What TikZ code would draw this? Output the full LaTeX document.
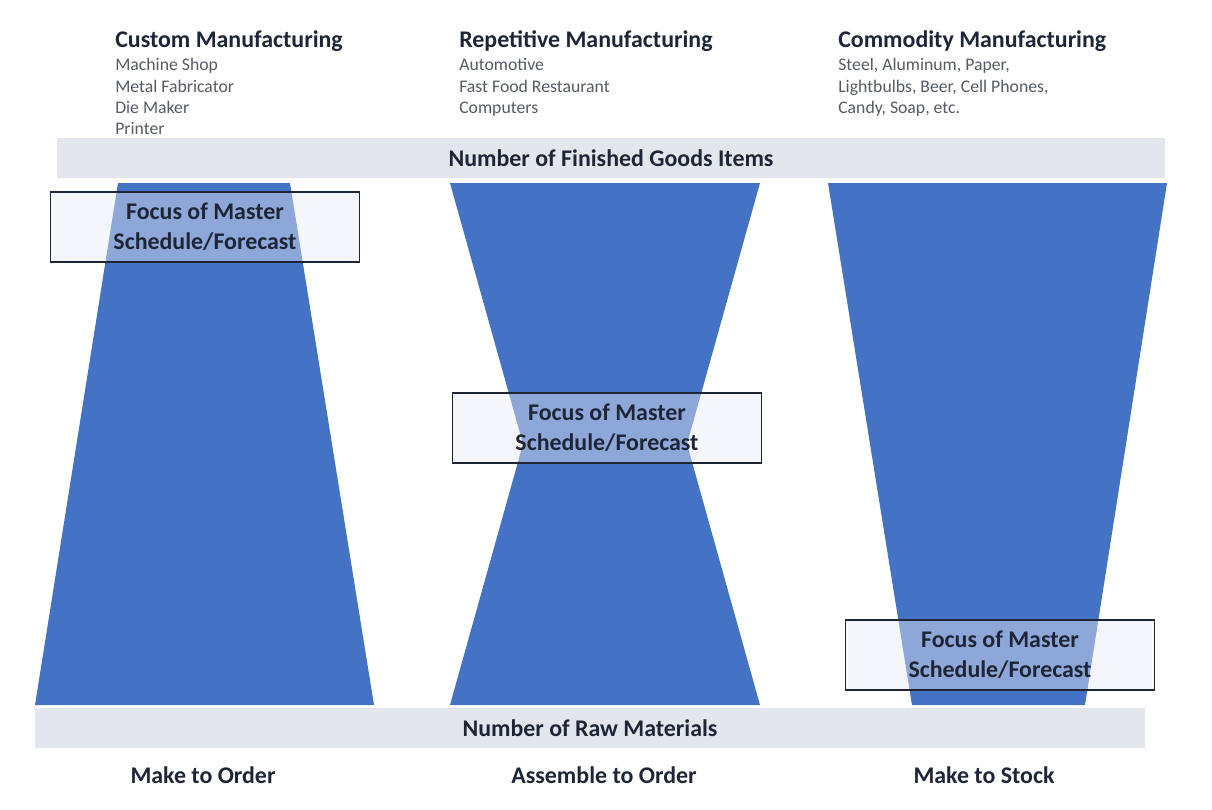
\documentclass[tikz,border=0pt]{standalone}
\usepackage{fontspec}
\setmainfont{Carlito}
\usepackage{tikz}
\usetikzlibrary{positioning}
\definecolor{funnelBlue}{HTML}{4472C4}
\definecolor{bandGray}{HTML}{E3E6EC}
\definecolor{headInk}{HTML}{1E2537}
\definecolor{listInk}{HTML}{555A63}
\definecolor{focusFill}{HTML}{E8EBF1}

\tikzset{
  band/.style={fill=bandGray, draw=none, minimum height=40*0.025cm, inner sep=0pt,
    font=\fontsize{17}{20}\selectfont\bfseries, text=headInk},
  focusbox/.style={draw=headInk, line width=1.1pt, fill=focusFill, fill opacity=0.45,
    text opacity=1, minimum width=309*0.025cm, minimum height=70*0.025cm, inner sep=0pt,
    align=center, font=\fontsize{17}{21.5}\selectfont\bfseries, text=headInk},
  heading/.style={anchor=north west, inner sep=0pt, align=left, text=headInk,
    font=\fontsize{17}{20}\selectfont\bfseries},
  itemlist/.style={anchor=north west, inner sep=0pt, align=left, text=listInk,
    font=\fontsize{12.6}{15}\selectfont},
  mode/.style={inner sep=0pt, text=headInk, font=\fontsize{17}{20}\selectfont\bfseries},
}

\begin{document}
\begin{tikzpicture}[x=0.025cm, y=-0.025cm]
    \useasboundingbox (0,0) rectangle (1212,810);

    % bands
    \node[band, minimum width=1108*0.025cm] (finished) at (611,158) {Number of Finished Goods Items};
    \node[band, minimum width=1110*0.025cm] (raw) at (590,728) {Number of Raw Materials};

    % funnels
    \fill[funnelBlue] (118,183) -- (290,183) -- (374,705) -- (35,705) -- cycle;
    \fill[funnelBlue] (450,183) -- (760,183) -- (687,444) -- (760,705)
        -- (450,705) -- (523,444) -- cycle;
    \fill[funnelBlue] (828,183) -- (1167,183) -- (1085,705) -- (912,705) -- cycle;

    % focus boxes
    \node[focusbox] (focusA) at (205,227) {Focus of Master\\Schedule/Forecast};
    \node[focusbox] (focusB) at (607,428) {Focus of Master\\Schedule/Forecast};
    \node[focusbox] (focusC) at (1000,655) {Focus of Master\\Schedule/Forecast};

    % column headings
    \node[heading] (custom) at (115,30) {Custom Manufacturing};
    \node[itemlist, below=7*0.025cm of custom.south west, anchor=north west] (customList)
        {Machine Shop\\Metal Fabricator\\Die Maker\\Printer};
    \node[heading] (repetitive) at (459,30) {Repetitive Manufacturing};
    \node[itemlist, below=7*0.025cm of repetitive.south west, anchor=north west] (repetitiveList)
        {Automotive\\Fast Food Restaurant\\Computers};
    \node[heading] (commodity) at (838,30) {Commodity Manufacturing};
    \node[itemlist, below=7*0.025cm of commodity.south west, anchor=north west] (commodityList)
        {Steel, Aluminum, Paper,\\Lightbulbs, Beer, Cell Phones,\\Candy, Soap, etc.};

    % strategies
    \node[mode] (mto) at (203,775) {Make to Order};
    \node[mode] (ato) at (604,775) {Assemble to Order};
    \node[mode] (mts) at (984,775) {Make to Stock};
\end{tikzpicture}
\end{document}
